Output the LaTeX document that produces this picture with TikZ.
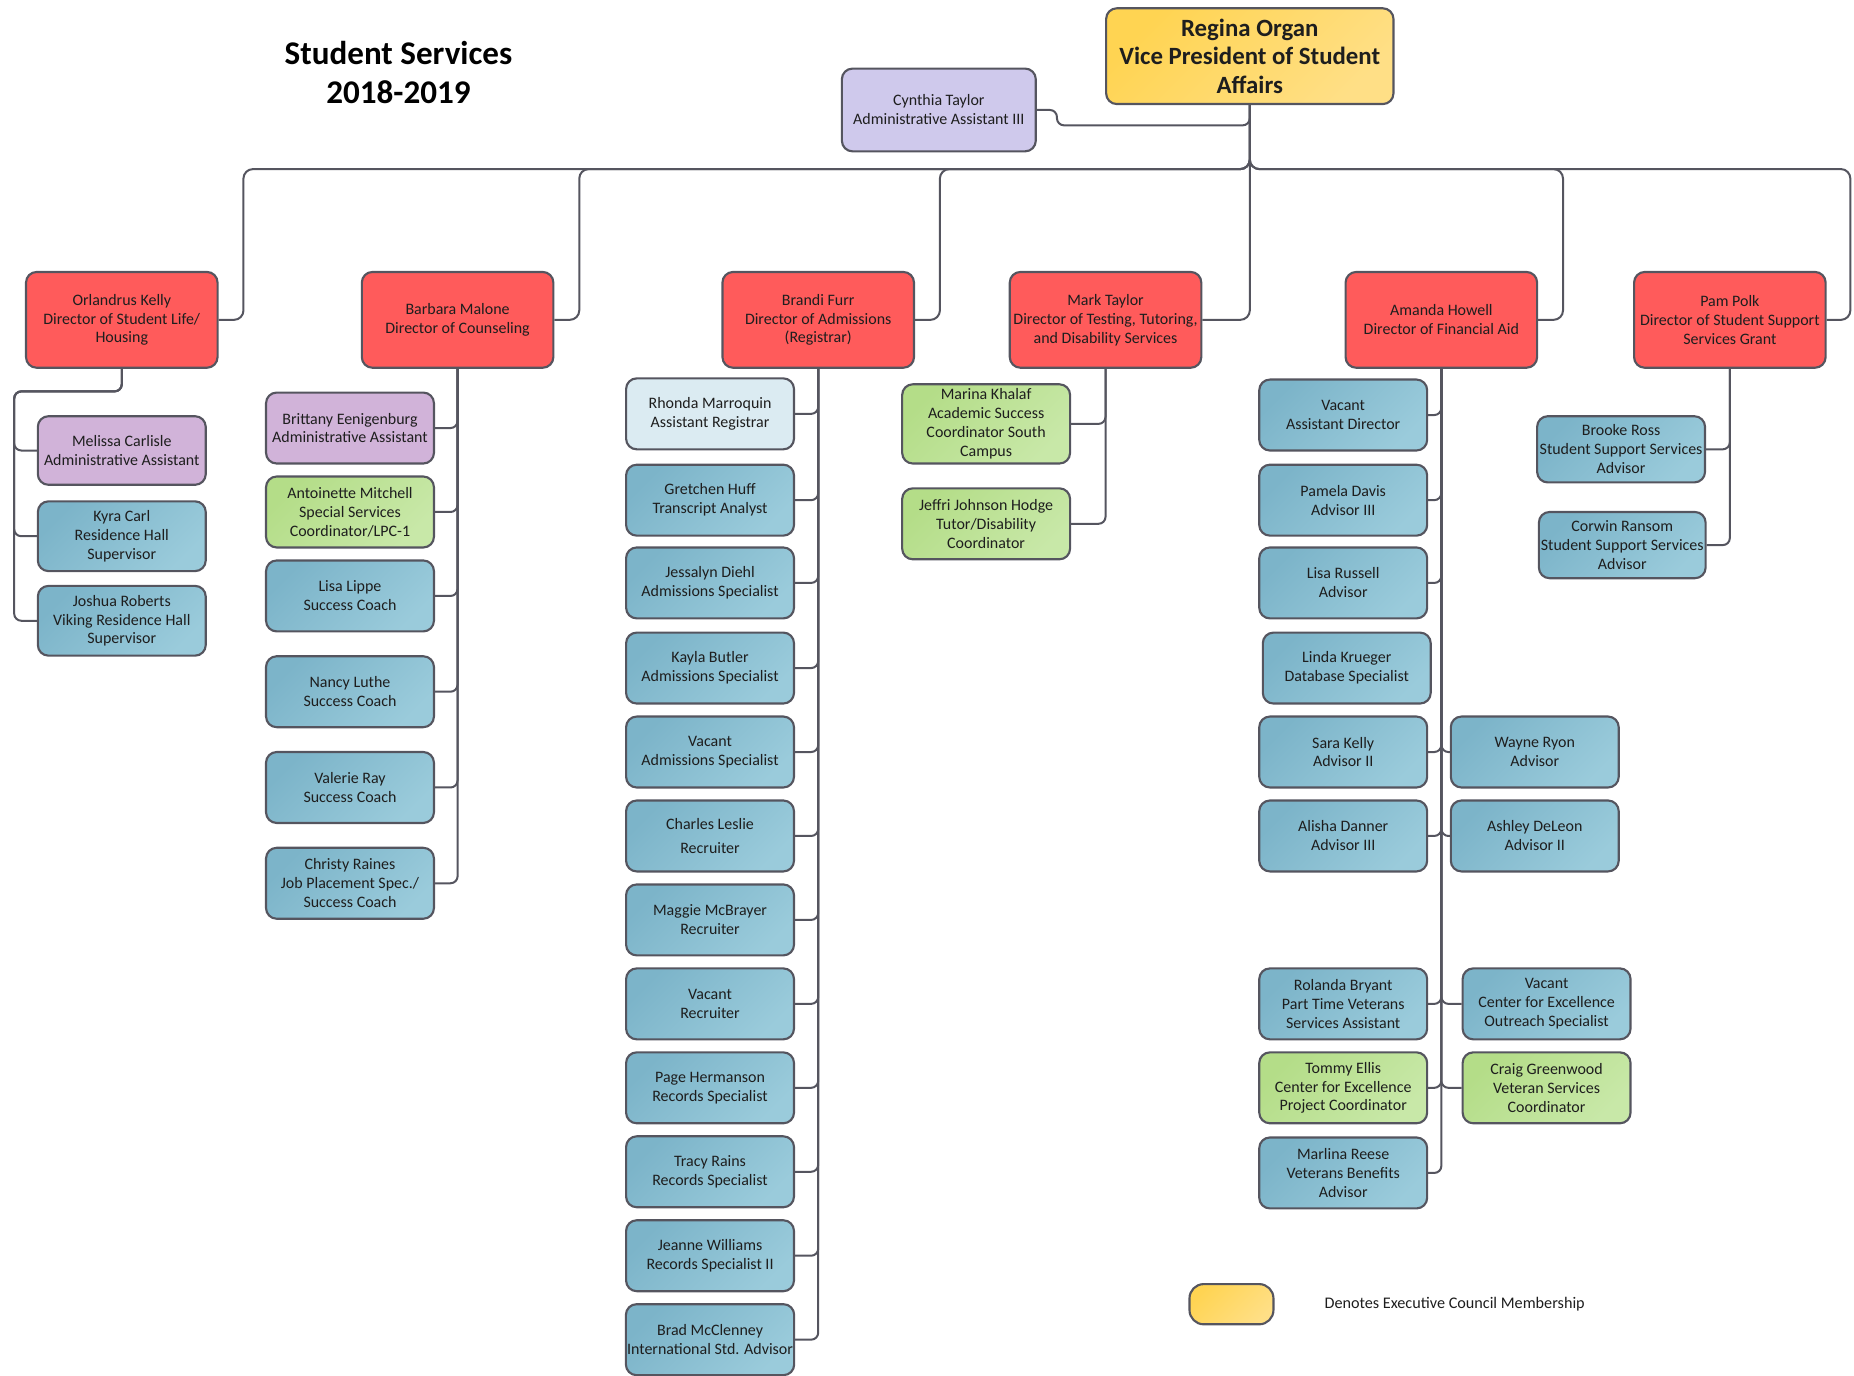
\documentclass[tikz,border=0pt]{standalone}
\usepackage{fontspec}
\setmainfont{Carlito}
\definecolor{linec}{HTML}{55555F}
\definecolor{txt}{HTML}{1E1E1E}
\definecolor{redc}{HTML}{FF5B5B}
\definecolor{blueA}{HTML}{7CB4C9}
\definecolor{blueB}{HTML}{9ACBDB}
\definecolor{greenA}{HTML}{B4DD88}
\definecolor{greenB}{HTML}{C8E8A8}
\definecolor{yelA}{HTML}{FFD452}
\definecolor{yelB}{HTML}{FFDF86}
\definecolor{lavc}{HTML}{CFC9EC}
\definecolor{mauvec}{HTML}{D1B3D9}
\definecolor{lbluec}{HTML}{DBEBF2}
\begin{document}
\begin{tikzpicture}[x=1pt,y=-1pt,
  box/.style={draw=linec, line width=1.8pt, rounded corners=9pt, align=center, inner sep=1pt, text=txt, font=\fontsize{13.5}{16}\selectfont},
  std/.style={box, minimum width=142pt, minimum height=60pt},
  dir/.style={box, minimum width=162pt, minimum height=81pt, fill=redc},
  cblue/.style={top color=blueA, bottom color=blueB, shading angle=45},
  cgreen/.style={top color=greenA, bottom color=greenB, shading angle=45},
  cyel/.style={top color=yelA, bottom color=yelB, shading angle=45},
  clav/.style={fill=lavc},
  cmauve/.style={fill=mauvec},
  clblue/.style={fill=lbluec},
  conn/.style={draw=linec, line width=1.7pt, rounded corners=6pt},
  bconn/.style={draw=linec, line width=1.7pt, rounded corners=8pt},
]
\useasboundingbox (0,0) rectangle (1568,1163);

% title
\node[text=black, align=center, font=\fontsize{28}{33}\selectfont\bfseries] (title) at (337,61.5) {Student Services\\2018-2019};

% top
\node[box, cyel, minimum width=243pt, minimum height=81pt, font=\fontsize{21}{24}\selectfont\bfseries] (vp) at (1057,47.5) {Regina Organ\\Vice President of Student\\Affairs};
\node[box, clav, minimum width=164pt, minimum height=70pt] (ct) at (794,93) {Cynthia Taylor\\Administrative Assistant III};

% directors
\node[dir] (ok) at (103,270.5) {Orlandrus Kelly\\Director of Student Life/\\Housing};
\node[dir] (bm) at (387,270.5) {Barbara Malone\\Director of Counseling};
\node[dir] (bf) at (692,270.5) {Brandi Furr\\Director of Admissions\\(Registrar)};
\node[dir] (mt) at (935,270.5) {Mark Taylor\\Director of Testing, Tutoring,\\and Disability Services};
\node[dir] (ah) at (1219,270.5) {Amanda Howell\\Director of Financial Aid};
\node[dir] (pp) at (1463,270.5) {Pam Polk\\Director of Student Support\\Services Grant};

% Orlandrus children
\node[std, cmauve, minimum height=58pt] (mc) at (103,381) {Melissa Carlisle\\Administrative Assistant};
\node[std, cblue, minimum height=59pt] (kc) at (103,453.5) {Kyra Carl\\Residence Hall\\Supervisor};
\node[std, cblue, minimum height=59pt] (jr) at (103,525) {Joshua Roberts\\Viking Residence Hall\\Supervisor};

% Barbara children
\node[std, cmauve] (be) at (296,362) {Brittany Eenigenburg\\Administrative Assistant};
\node[std, cgreen] (am) at (296,433) {Antoinette Mitchell\\Special Services\\Coordinator/LPC-1};
\node[std, cblue] (ll) at (296,504) {Lisa Lippe\\Success Coach};
\node[std, cblue] (nl) at (296,585) {Nancy Luthe\\Success Coach};
\node[std, cblue] (vr) at (296,666) {Valerie Ray\\Success Coach};
\node[std, cblue] (cr) at (296,747) {Christy Raines\\Job Placement Spec./\\Success Coach};

% Brandi children
\node[std, clblue] (rm) at (600.5,350) {Rhonda Marroquin\\Assistant Registrar};
\node[std, cblue] (gh) at (600.5,423) {Gretchen Huff\\Transcript Analyst};
\node[std, cblue] (jd) at (600.5,493) {Jessalyn Diehl\\Admissions Specialist};
\node[std, cblue] (kb) at (600.5,565) {Kayla Butler\\Admissions Specialist};
\node[std, cblue] (va) at (600.5,636) {Vacant\\Admissions Specialist};
\node[std, cblue] (cl) at (600.5,707) {Charles Leslie\\[5pt]Recruiter};
\node[std, cblue] (mm) at (600.5,778) {Maggie McBrayer\\Recruiter};
\node[std, cblue] (vrc) at (600.5,849) {Vacant\\Recruiter};
\node[std, cblue] (ph) at (600.5,920) {Page Hermanson\\Records Specialist};
\node[std, cblue] (tr) at (600.5,991) {Tracy Rains\\Records Specialist};
\node[std, cblue] (jw) at (600.5,1062) {Jeanne Williams\\Records Specialist II};
\node[std, cblue] (bmc) at (600.5,1133) {Brad McClenney\\International Std. Advisor};

% Mark children
\node[std, cgreen, minimum height=67pt] (mk) at (834,358.5) {Marina Khalaf\\Academic Success\\Coordinator South\\Campus};
\node[std, cgreen] (jj) at (834,443) {Jeffri Johnson Hodge\\Tutor/Disability\\Coordinator};

% Amanda children
\node[std, cblue] (vad) at (1136,351) {Vacant\\Assistant Director};
\node[std, cblue] (pd) at (1136,423) {Pamela Davis\\Advisor III};
\node[std, cblue] (lr) at (1136,493) {Lisa Russell\\Advisor};
\node[std, cblue] (lk) at (1139,565) {Linda Krueger\\Database Specialist};
\node[std, cblue] (sk) at (1136,636) {Sara Kelly\\Advisor II};
\node[std, cblue] (ad) at (1136,707) {Alisha Danner\\Advisor III};
\node[std, cblue] (rb) at (1136,849) {Rolanda Bryant\\Part Time Veterans\\Services Assistant};
\node[std, cgreen] (te) at (1136,920) {Tommy Ellis\\Center for Excellence\\Project Coordinator};
\node[std, cblue] (mr) at (1136,992) {Marlina Reese\\Veterans Benefits\\Advisor};
\node[std, cblue] (wr) at (1298,636) {Wayne Ryon\\Advisor};
\node[std, cblue] (adl) at (1298,707) {Ashley DeLeon\\Advisor II};
\node[std, cblue] (vce) at (1308,849) {Vacant\\Center for Excellence\\Outreach Specialist};
\node[std, cgreen] (cg) at (1308,920) {Craig Greenwood\\Veteran Services\\Coordinator};

% Pam children
\node[std, cblue, minimum height=56pt] (br) at (1371,380) {Brooke Ross\\Student Support Services\\Advisor};
\node[std, cblue, minimum height=56pt, minimum width=141pt] (cwr) at (1372,461) {Corwin Ransom\\Student Support Services\\Advisor};

% legend
\node[box, cyel, rounded corners=12pt, minimum width=71pt, minimum height=34pt] (leg) at (1041.5,1103) {};
\node[anchor=west, text=txt, font=\fontsize{13.7}{16}\selectfont, inner sep=0pt] (legt) at (1120,1103) {Denotes Executive Council Membership};

% connectors: VP
\coordinate (bus) at (1057,143);
\draw[bconn] (ok.east) -- ++(21,0) |- (bus) -- (vp.south);
\draw[bconn] (bm.east) -- ++(21,0) |- (bus) -- (vp.south);
\draw[bconn] (bf.east) -- ++(21,0) |- (bus) -- (vp.south);
\draw[bconn] (mt.east) -| (vp.south);
\draw[bconn] (ah.east) -- ++(21,0) |- (bus) -- (vp.south);
\draw[bconn] (pp.east) -- ++(20,0) |- (bus) -- (vp.south);
\draw[conn] (ct.east) -- ++(17,0) -- ++(0,13) -| (vp.south);

% Orlandrus
\coordinate (okb) at (12,331);
\foreach \c in {mc,kc,jr} \draw[conn] (\c.west) -| (okb) -| (ok.south);
% Barbara
\foreach \c in {be,am,ll,nl,vr,cr} \draw[conn] (\c.east) -| (bm.south);
% Brandi
\foreach \c in {rm,gh,jd,kb,va,cl,mm,vrc,ph,tr,jw,bmc} \draw[conn] (\c.east) -| (bf.south);
% Mark
\foreach \c in {mk,jj} \draw[conn] (\c.east) -| (mt.south);
% Amanda
\foreach \c in {vad,pd,lr,sk,ad,rb,te,mr} \draw[conn] (\c.east) -| (ah.south);
\foreach \c in {wr,adl,vce,cg} \draw[conn] (\c.west) -| (ah.south);
% Pam
\foreach \c in {br,cwr} \draw[conn] (\c.east) -| (pp.south);
\end{tikzpicture}
\end{document}
